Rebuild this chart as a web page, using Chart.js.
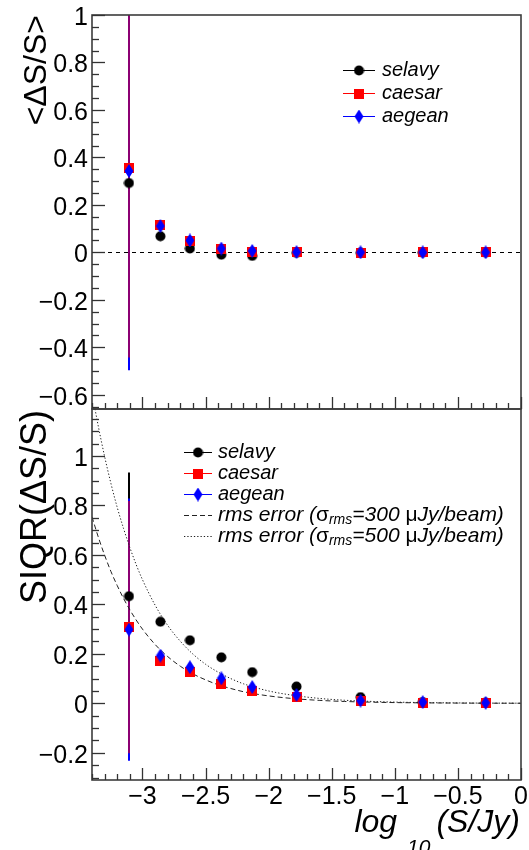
<!DOCTYPE html>
<html><head><meta charset="utf-8">
<script src="https://cdn.jsdelivr.net/npm/chart.js@4.4.0/dist/chart.umd.min.js"></script>
<style>
html,body{margin:0;padding:0;background:#fff;width:529px;height:850px;overflow:hidden;}
#c1{position:absolute;left:0;top:0;}
#c2{position:absolute;left:0;top:406px;}
</style></head><body>
<canvas id="c1" width="529" height="412"></canvas>
<canvas id="c2" width="529" height="444"></canvas>
<script>
// ---------- data ----------
const xBins = [-3.107, -2.858, -2.624, -2.375, -2.13, -1.779, -1.272, -0.779, -0.28];

const meanSelavy = [0.292, 0.068, 0.016, -0.010, -0.015, -0.002, -0.002, -0.001, -0.001];
const meanCaesar = [0.357, 0.117, 0.046, 0.013, 0.002, 0.000, -0.001, 0.000, 0.000];
const meanAegean = [0.343, 0.111, 0.050, 0.016, 0.006, 0.001, 0.000, 0.000, 0.000];
const meanErrSelavy = [0.75, 0.01, 0.005, 0.004, 0.003, 0.002, 0.001, 0.001, 0.001];
const meanErrCaesar = [0.80, 0.01, 0.005, 0.004, 0.003, 0.002, 0.001, 0.001, 0.001];
const meanErrAegean = [0.84, 0.01, 0.005, 0.004, 0.003, 0.002, 0.001, 0.001, 0.001];

const siqrSelavy = [0.433, 0.330, 0.255, 0.186, 0.126, 0.068, 0.025, 0.005, 0.002];
const siqrCaesar = [0.308, 0.173, 0.126, 0.080, 0.051, 0.027, 0.008, 0.003, 0.001];
const siqrAegean = [0.298, 0.193, 0.146, 0.101, 0.066, 0.034, 0.011, 0.005, 0.002];
const siqrErrSelavy = [0.50, 0.01, 0.005, 0.004, 0.003, 0.002, 0.001, 0.001, 0.001];
const siqrErrCaesar = [0.51, 0.01, 0.005, 0.004, 0.003, 0.002, 0.001, 0.001, 0.001];
const siqrErrAegean = [0.53, 0.01, 0.005, 0.004, 0.003, 0.002, 0.001, 0.001, 0.001];

// rms error curves
const rmsX      = [-3.4, -3.35, -3.3, -3.25, -3.2, -3.15, -3.1, -3.05, -3.0, -2.9, -2.8, -2.7, -2.6, -2.5, -2.4, -2.3, -2.2, -2.0, -1.8, -1.6, -1.4, -1.2, -1.0, -0.5, 0.0];
const rms300Y   = [0.754, 0.672, 0.599, 0.533, 0.476, 0.424, 0.378, 0.337, 0.300, 0.238, 0.189, 0.150, 0.119, 0.095, 0.075, 0.060, 0.047, 0.030, 0.019, 0.012, 0.0075, 0.0048, 0.003, 0.001, 0.0003];
const rms500Y   = [1.256, 1.120, 0.998, 0.889, 0.792, 0.707, 0.630, 0.561, 0.500, 0.397, 0.315, 0.251, 0.199, 0.158, 0.126, 0.100, 0.079, 0.050, 0.032, 0.020, 0.0125, 0.008, 0.005, 0.0016, 0.0005];

const topYTicks = [-0.6, -0.4, -0.2, 0, 0.2, 0.4, 0.6, 0.8, 1];
const botYTicks = [-0.2, 0, 0.2, 0.4, 0.6, 0.8, 1];
const xTicks    = [-3, -2.5, -2, -1.5, -1, -0.5, 0];

const seriesNames = ['selavy', 'caesar', 'aegean'];
const rmsLabels = ['300', '500'];

// ---------- styling helpers ----------
const FONT = '"Liberation Sans", Arial, Helvetica, sans-serif';
function mk(w, h, draw) { const c = document.createElement('canvas'); c.width = w; c.height = h; draw(c.getContext('2d'), w, h); return c; }
const mCircle = mk(11, 11, (g) => { g.fillStyle = '#000'; g.beginPath(); g.arc(5.5, 5.5, 5, 0, Math.PI * 2); g.fill(); });
const mSquare = mk(10, 10, (g) => { g.fillStyle = '#ff0000'; g.fillRect(0, 0, 10, 10); });
const mDiamond = mk(10, 14, (g) => { g.fillStyle = '#0000ff'; g.beginPath(); g.moveTo(5, 0); g.lineTo(9.5, 7); g.lineTo(5, 14); g.lineTo(0.5, 7); g.closePath(); g.fill(); });
const markers = [mCircle, mSquare, mDiamond];
const colors = ['#000000', '#ff0000', '#0000ff'];

const pts = (ys) => xBins.map((x, i) => ({ x, y: ys[i] }));
const fmt = (v) => { const r = Math.round(v * 100) / 100; return r < 0 ? '\u2212' + String(Math.abs(r)) : String(r); };

function markerDataset(i, ys, errs, order) {
  return {
    label: seriesNames[i], data: pts(ys), errors: errs, errColor: colors[i],
    showLine: false, pointStyle: markers[i], pointRadius: 6, pointHoverRadius: 6,
    borderColor: colors[i], backgroundColor: colors[i], order: order
  };
}

// ---------- plugins ----------
const errorBars = {
  id: 'errorBars',
  beforeDatasetsDraw(chart) {
    const { ctx, chartArea: a, scales: { x, y } } = chart;
    ctx.save();
    ctx.beginPath(); ctx.rect(a.left, a.top, a.right - a.left, a.bottom - a.top); ctx.clip();
    const drawOrder = [0, 2, 1]; // selavy, aegean, caesar (semi-transparent)
    drawOrder.forEach((di) => {
      const ds = chart.data.datasets[di];
      if (!ds || !ds.errors) return;
      ctx.strokeStyle = ds.errColor; ctx.lineWidth = 2;
      ctx.globalAlpha = di === 1 ? 0.55 : 1;
      ds.data.forEach((p, k) => {
        const e = ds.errors[k];
        const px = Math.round(x.getPixelForValue(p.x));
        ctx.beginPath();
        ctx.moveTo(px, y.getPixelForValue(p.y + e));
        ctx.lineTo(px, y.getPixelForValue(p.y - e));
        ctx.stroke();
      });
    });
    ctx.restore();
  }
};

function frameTicksPlugin(cfg) {
  return {
    id: 'frameTicks',
    beforeDatasetsDraw(chart) {
      const { ctx, chartArea: a, scales: { y } } = chart;
      if (cfg.zeroLine) {
        ctx.save();
        ctx.strokeStyle = '#000'; ctx.lineWidth = 1; ctx.setLineDash([4, 4]);
        const p = Math.round(y.getPixelForValue(0)) + 0.5;
        ctx.beginPath(); ctx.moveTo(a.left, p); ctx.lineTo(a.right, p); ctx.stroke();
        ctx.restore();
      }
    },
    afterDatasetsDraw(chart) {
      const { ctx, chartArea: a, scales: { x, y } } = chart;
      ctx.save();
      ctx.strokeStyle = '#3c3c3c'; ctx.lineWidth = 1.6;
      ctx.strokeRect(a.left, a.top, a.right - a.left, a.bottom - a.top);
      ctx.lineWidth = 1.3; ctx.strokeStyle = '#333';
      const i0 = Math.ceil(y.min / 0.05 - 1e-6), i1 = Math.floor(y.max / 0.05 + 1e-6);
      for (let i = i0; i <= i1; i++) {
        const v = i * 0.05;
        const p = Math.round(y.getPixelForValue(v)) + 0.5;
        const len = (i % 4 === 0) ? 13 : 7;
        ctx.beginPath(); ctx.moveTo(a.left, p); ctx.lineTo(a.left + len, p); ctx.stroke();
      }
      const j0 = Math.ceil(x.min / 0.1 - 1e-6), j1 = Math.floor(x.max / 0.1 + 1e-6);
      for (let j = j0; j <= j1; j++) {
        const v = j * 0.1;
        const p = Math.round(x.getPixelForValue(v)) + 0.5;
        const len = (j % 5 === 0) ? 12 : 6;
        ctx.beginPath(); ctx.moveTo(p, a.bottom); ctx.lineTo(p, a.bottom - len); ctx.stroke();
      }
      ctx.restore();
    },
    afterDraw(chart) {
      const { ctx } = chart;
      ctx.save();
      ctx.fillStyle = '#000';
      ctx.translate(cfg.yTitleX, cfg.yTitleEnd);
      ctx.rotate(-Math.PI / 2);
      ctx.font = cfg.yTitleSize + 'px ' + FONT;
      ctx.textAlign = 'right'; ctx.textBaseline = 'alphabetic';
      ctx.fillText(cfg.yTitle, 0, 0);
      ctx.restore();
      const L = cfg.legend;
      ctx.save();
      L.rows.forEach((row, k) => {
        const yy = L.y0 + k * L.dy;
        ctx.strokeStyle = row.color; ctx.lineWidth = 1;
        ctx.setLineDash(row.dash || []);
        ctx.beginPath(); ctx.moveTo(L.x0, yy + 0.5); ctx.lineTo(L.x1, yy + 0.5); ctx.stroke();
        ctx.setLineDash([]);
        if (row.marker) ctx.drawImage(row.marker, (L.x0 + L.x1) / 2 - row.marker.width / 2, yy - row.marker.height / 2 + 0.5);
        ctx.fillStyle = '#000'; ctx.textBaseline = 'middle'; ctx.textAlign = 'left';
        let tx = L.tx;
        row.parts.forEach((pt) => {
          ctx.font = pt.f;
          ctx.fillText(pt.t, tx, yy + (pt.dy || 0));
          tx += ctx.measureText(pt.t).width + (pt.gap || 0);
        });
      });
      ctx.restore();
      if (cfg.xTitle) cfg.xTitle(ctx);
    }
  };
}

const IT20 = 'italic 20px ' + FONT;
const IT21 = 'italic 21px ' + FONT;
const UP21 = '21px ' + FONT;
const SUB = 'italic 14px ' + FONT;
function legendRows(withRms) {
  const rows = seriesNames.map((n, i) => ({ color: colors[i], marker: markers[i], parts: [{ t: n, f: IT20 }] }));
  if (withRms) {
    [[5, 3], [1.3, 2]].forEach((dash, k) => rows.push({
      color: '#222', dash,
      parts: [
        { t: 'rms error (', f: IT21 }, { t: '\u03c3', f: UP21 },
        { t: 'rms', f: SUB, dy: 5 }, { t: '=' + rmsLabels[k] + ' ', f: IT21 },
        { t: '\u03bc', f: UP21 }, { t: 'Jy/beam)', f: IT21 }
      ]
    }));
  }
  return rows;
}

function yScale(min, max, ticksArr) {
  return {
    type: 'linear', min, max,
    afterFit: (s) => { s.width = 92; s.paddingTop = 0; s.paddingBottom = 0; },
    afterBuildTicks: (s) => { s.ticks = ticksArr.map((v) => ({ value: v })); },
    ticks: { font: { family: FONT, size: 25 }, color: '#000', padding: 4, labelOffset: 3, callback: fmt, autoSkip: false },
    grid: { display: false, drawTicks: false }, border: { display: false }
  };
}

// ---------- chart 1: <ΔS/S> ----------
new Chart(document.getElementById('c1'), {
  type: 'scatter',
  data: {
    datasets: [
      markerDataset(0, meanSelavy, meanErrSelavy, 3),
      markerDataset(1, meanCaesar, meanErrCaesar, 2),
      markerDataset(2, meanAegean, meanErrAegean, 1)
    ]
  },
  options: {
    responsive: false, animation: false, events: [],
    layout: { autoPadding: false, padding: { left: 0, right: 8, top: 15, bottom: 0 } },
    plugins: { legend: { display: false }, tooltip: { enabled: false } },
    scales: {
      x: { type: 'linear', min: -3.4, max: 0, afterFit: (s) => { s.height = 3; s.paddingLeft = 0; s.paddingRight = 0; }, ticks: { display: false }, grid: { display: false }, border: { display: false } },
      y: yScale(-0.66, 1.0, topYTicks)
    }
  },
  plugins: [errorBars, frameTicksPlugin({
    zeroLine: true, yTitle: '<\u0394S/S>', yTitleX: 46, yTitleEnd: 15, yTitleSize: 32,
    legend: { x0: 343, x1: 375, tx: 382, y0: 70, dy: 23, rows: legendRows(false) }
  })]
});

// ---------- chart 2: SIQR(ΔS/S) ----------
new Chart(document.getElementById('c2'), {
  type: 'scatter',
  data: {
    datasets: [
      markerDataset(0, siqrSelavy, siqrErrSelavy, 3),
      markerDataset(1, siqrCaesar, siqrErrCaesar, 2),
      markerDataset(2, siqrAegean, siqrErrAegean, 1),
      { label: 'rms300', data: rmsX.map((x, i) => ({ x, y: rms300Y[i] })), showLine: true, borderColor: '#222', borderWidth: 1, borderDash: [5, 3], pointRadius: 0, cubicInterpolationMode: 'monotone', order: 5 },
      { label: 'rms500', data: rmsX.map((x, i) => ({ x, y: rms500Y[i] })), showLine: true, borderColor: '#222', borderWidth: 1, borderDash: [1.3, 2], pointRadius: 0, cubicInterpolationMode: 'monotone', order: 6 }
    ]
  },
  options: {
    responsive: false, animation: false, events: [],
    layout: { autoPadding: false, padding: { left: 0, right: 8, top: 3, bottom: 0 } },
    plugins: { legend: { display: false }, tooltip: { enabled: false } },
    scales: {
      x: {
        type: 'linear', min: -3.4, max: 0,
        afterFit: (s) => { s.height = 70; s.paddingLeft = 0; s.paddingRight = 0; },
        afterBuildTicks: (s) => { s.ticks = xTicks.map((v) => ({ value: v })); },
        ticks: { font: { family: FONT, size: 25 }, color: '#000', padding: 2, maxRotation: 0, autoSkip: false, callback: fmt },
        grid: { display: false, drawTicks: false }, border: { display: false }
      },
      y: yScale(-0.31, 1.19, botYTicks)
    }
  },
  plugins: [errorBars, frameTicksPlugin({
    zeroLine: false, yTitle: 'SIQR(\u0394S/S)', yTitleX: 46, yTitleEnd: 4, yTitleSize: 36,
    legend: { x0: 184, x1: 212, tx: 218, y0: 46, dy: 21, rows: legendRows(true) },
    xTitle: (ctx) => {
      ctx.save();
      ctx.fillStyle = '#000'; ctx.textBaseline = 'alphabetic'; ctx.textAlign = 'left';
      const big = 'italic 32px ' + FONT, sub = 'italic 21px ' + FONT;
      ctx.font = big;
      const w3 = ctx.measureText('(S/Jy)').width;
      const x3 = 520 - w3;
      ctx.fillText('(S/Jy)', x3, 426);
      ctx.font = sub;
      const w2 = ctx.measureText('10').width;
      const x2 = x3 - 6 - w2;
      ctx.fillText('10', x2, 448);
      ctx.font = big;
      const w1 = ctx.measureText('log').width;
      ctx.fillText('log', x2 - 10 - w1, 426);
      ctx.restore();
    }
  })]
});
</script>
</body></html>
